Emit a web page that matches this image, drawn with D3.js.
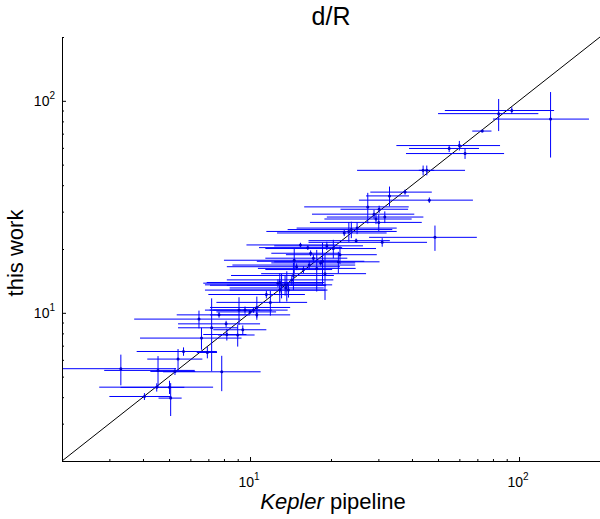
<!DOCTYPE html>
<html>
<head>
<meta charset="utf-8">
<script src="https://cdn.jsdelivr.net/npm/d3@7"></script>
<style>
  body { margin: 0; background: #fff; }
  svg text { font-family: "Liberation Sans", Arial, sans-serif; fill: #000; }
</style>
</head>
<body>
<div id="chart"></div>
<script>
// d/R : Kepler pipeline (x) vs this work (y), symmetric errors
var kepler = [131, 84, 94, 73, 60, 55, 63, 44, 45.4, 37.7,
  33, 46.4, 27.4, 31.7, 48.7, 31, 30.2, 28.9, 30.1, 29.4,
  23.3, 23.8, 25, 22.4, 19.3, 20.4, 21.6, 21.3, 16.4, 14.6,
  14.9, 15.8, 16.6, 17.2, 17.7, 18.6, 19.0, 11.5, 12.9, 12.7,
  13.1, 13.6, 13.9, 14.3, 13.5, 13.7, 14.5, 12.9, 10.3, 10.6,
  10, 9.1, 9.0, 10.6, 11.9, 9.58, 7.67, 6.46, 7.2, 6.6,
  6.94, 8.2, 5.66, 8.15, 3.31, 4.55, 5.4, 5.26, 7.85, 5.02,
  4.5, 4.05, 5.07, 16.8, 15.4, 9.4, 18.3, 24.8];
var keplerErr = [51, 34, 41, 6, 25, 16, 25, 19, 3, 9.7,
  6, 21, 11.5, 12.4, 21, 14.5, 8.5, 11.9, 13.4, 10.5,
  11.8, 10, 10.1, 9.8, 7, 9, 8, 9, 5.6, 6.6,
  6.7, 4.4, 8, 5.8, 7, 8, 8, 4.5, 6.1, 6,
  6, 5.2, 5.5, 6.1, 6.7, 5.5, 6, 6, 3.5, 3.5,
  2.5, 1.8, 1.4, 3.5, 4.4, 2.5, 2.33, 2.75, 1.8, 2.7,
  0.6, 1.5, 1.87, 2.75, 2.0, 1.68, 1.25, 1.0, 3.1, 2.27,
  1.2, 1.05, 0.5, 4.8, 5.7, 2.1, 6.3, 8.3];
var thisWork = [82, 87, 90, 72, 61.5, 59.6, 56.4, 47, 47, 37.1,
  35.6, 34, 31.6, 28.3, 22.7, 21.5, 30.8, 29.2, 26.7, 27.7,
  24.2, 24.7, 25.1, 23.8, 20.7, 20.1, 18.8, 17.4, 20.3, 17.7,
  16.5, 16.0, 16.8, 18.1, 16.2, 17.5, 15.3, 12.2, 12.8, 13.8,
  13.5, 13.1, 12.8, 14.3, 13.55, 13.5, 15, 13.9, 10.3, 9.78,
  10.1, 10.3, 7.86, 10.6, 11.2, 10.3, 9.78, 9.34, 8.5, 7.6,
  6.5, 7.9, 6.57, 8.87, 5.45, 5.35, 6.05, 5.29, 5.27, 4.46,
  4.45, 4.03, 3.96, 19.1, 20.9, 8.32, 17.2, 21.9];
var thisWorkErr = [28, 15, 3.3, 1, 3.2, 2.3, 3.2, 2.5, 2.5, 1,
  3.8, 1, 5.2, 1.8, 3.1, 1, 1.2, 1.4, 2.4, 1.5,
  2.6, 2.2, 1.6, 0.8, 0.95, 2, 1.8, 2, 0.5, 2.3,
  0.6, 0.6, 0.8, 0.7, 3.6, 3.9, 3.8, 0.5, 1.65, 0.6,
  1.8, 0.5, 1, 0.8, 1.5, 2.2, 2.2, 1.5, 0.3, 0.3,
  0.2, 1.54, 0.93, 1.33, 1.5, 0.4, 0.3, 0.9, 3.2, 0.9,
  0.4, 0.5, 0.3, 0.3, 0.9, 0.9, 0.7, 0.2, 1.0, 0.32,
  0.2, 0.15, 0.7, 0.6, 0.5, 0.4, 0.5, 0.5];

var axisDomain = [2, 200];
var majorTicks = [10, 100];
var majorExp = ["1", "2"];
var minorTicks = [2, 3, 4, 5, 6, 7, 8, 9, 20, 30, 40, 50, 60, 70, 80, 90, 200];

var width = 600, height = 519;
var margin = {top: 37, bottom: 58, left: 62, right: 0};

var svg = d3.select("#chart").append("svg")
  .attr("width", width)
  .attr("height", height);

var x = d3.scaleLog().domain(axisDomain).range([margin.left, width - margin.right]);
var y = d3.scaleLog().domain(axisDomain).range([height - margin.bottom, margin.top]);

var points = kepler.map(function(d, i) {
  return {x: d, xe: keplerErr[i], y: thisWork[i], ye: thisWorkErr[i]};
});

svg.append("clipPath").attr("id", "plot")
  .append("rect")
  .attr("x", x.range()[0]).attr("y", y.range()[1])
  .attr("width", x.range()[1] - x.range()[0])
  .attr("height", y.range()[0] - y.range()[1]);

// 1:1 line
svg.append("line")
  .attr("x1", x(axisDomain[0])).attr("y1", y(axisDomain[0]))
  .attr("x2", x(axisDomain[1])).attr("y2", y(axisDomain[1]))
  .attr("stroke", "#000").attr("stroke-width", 1);

var marks = svg.append("g").attr("clip-path", "url(#plot)");

// horizontal error bars
marks.selectAll(".xe").data(points).enter().append("line")
  .attr("class", "xe")
  .attr("x1", function(d) { return x(Math.max(d.x - d.xe, 0.1)); })
  .attr("x2", function(d) { return x(d.x + d.xe); })
  .attr("y1", function(d) { return y(d.y); })
  .attr("y2", function(d) { return y(d.y); })
  .attr("stroke", "#0000ff").attr("stroke-width", 1);

// vertical error bars
marks.selectAll(".ye").data(points).enter().append("line")
  .attr("class", "ye")
  .attr("x1", function(d) { return x(d.x); })
  .attr("x2", function(d) { return x(d.x); })
  .attr("y1", function(d) { return y(d.y - d.ye); })
  .attr("y2", function(d) { return y(d.y + d.ye); })
  .attr("stroke", "#0000ff").attr("stroke-width", 1);

marks.selectAll(".pt").data(points).enter().append("circle")
  .attr("class", "pt")
  .attr("cx", function(d) { return x(d.x); })
  .attr("cy", function(d) { return y(d.y); })
  .attr("r", 1.5)
  .attr("fill", "#0000cc");

// axes: ticks point inward
var xg = svg.append("g").attr("transform", "translate(0," + y.range()[0] + ")");
xg.call(d3.axisBottom(x).tickValues(minorTicks).tickSizeInner(-2).tickSizeOuter(0).tickFormat(""));
xg.append("g").call(d3.axisBottom(x).tickValues(majorTicks).tickSizeInner(-4).tickSizeOuter(0).tickFormat(""));

var yg = svg.append("g").attr("transform", "translate(" + x.range()[0] + ",0)");
yg.call(d3.axisLeft(y).tickValues(minorTicks).tickSizeInner(-2).tickSizeOuter(0).tickFormat(""));
yg.append("g").call(d3.axisLeft(y).tickValues(majorTicks).tickSizeInner(-4).tickSizeOuter(0).tickFormat(""));

svg.selectAll(".domain").attr("stroke", "#000");
svg.selectAll(".tick line").attr("stroke", "#000");

// tick labels 10^n
majorTicks.forEach(function(v, i) {
  var t = svg.append("text")
    .attr("x", x(v) - 1)
    .attr("y", y.range()[0] + 26)
    .attr("text-anchor", "middle")
    .style("font-size", "14px");
  t.append("tspan").text("10");
  t.append("tspan").attr("dy", -7).style("font-size", "10px").text(majorExp[i]);

  var u = svg.append("text")
    .attr("x", x.range()[0] - 7)
    .attr("y", y(v) + 5)
    .attr("text-anchor", "end")
    .style("font-size", "14px");
  u.append("tspan").text("10");
  u.append("tspan").attr("dy", -7).style("font-size", "10px").text(majorExp[i]);
});

// title and axis labels
svg.append("text")
  .attr("x", (x.range()[0] + x.range()[1]) / 2)
  .attr("y", 25)
  .attr("text-anchor", "middle")
  .style("font-size", "25px")
  .text("d/R");

var xl = svg.append("text")
  .attr("x", (x.range()[0] + x.range()[1]) / 2 + 2)
  .attr("y", 509)
  .attr("text-anchor", "middle")
  .style("font-size", "22px");
xl.append("tspan").style("font-style", "italic").text("Kepler");
xl.append("tspan").text(" pipeline");

svg.append("text")
  .attr("transform", "translate(23," + ((y.range()[0] + y.range()[1]) / 2 + 4) + ") rotate(-90)")
  .attr("text-anchor", "middle")
  .style("font-size", "22px")
  .text("this work");
</script>
</body>
</html>
